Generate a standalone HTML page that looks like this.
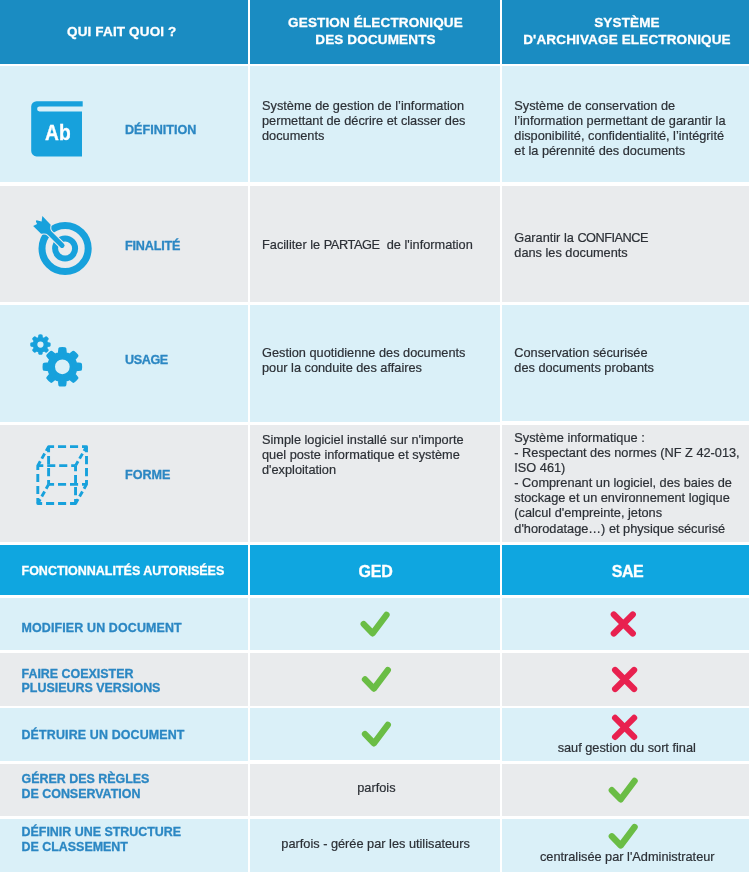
<!DOCTYPE html>
<html lang="fr">
<head>
<meta charset="utf-8">
<title>GED vs SAE</title>
<style>
html,body{margin:0;padding:0;background:#fff;}
body{width:749px;height:876px;position:relative;overflow:hidden;font-family:"Liberation Sans",sans-serif;color:#2b2b2b;}
.c{position:absolute;}
.h1{background:#1a8cc2;}
.h2{background:#0fa6e0;}
.lb{background:#daf0f8;}
.gr{background:#e9ebed;}
.t{position:absolute;white-space:nowrap;font-size:12.75px;line-height:15.1px;color:#2c3036;-webkit-text-stroke:0.2px #2c3036;}
.t span{display:inline-block;}
.hd{position:absolute;white-space:nowrap;font-weight:bold;color:#fff;-webkit-text-stroke:0.3px #fff;font-size:13.5px;line-height:17px;text-align:center;letter-spacing:0.15px;}
.lab{position:absolute;white-space:nowrap;font-weight:bold;color:#2b87c3;-webkit-text-stroke:0.3px #2b87c3;font-size:12.6px;line-height:15px;}
.lab2{position:absolute;white-space:nowrap;font-weight:bold;color:#2b87c3;-webkit-text-stroke:0.3px #2b87c3;font-size:12.45px;line-height:15px;}
.ctr{text-align:center;}
svg{position:absolute;left:0;top:0;overflow:visible;}
</style>
</head>
<body>
<!-- grid cells -->
<div class="c h1" style="left:0;top:0;width:248px;height:64px"></div>
<div class="c h1" style="left:250px;top:0;width:250px;height:64px"></div>
<div class="c h1" style="left:502px;top:0;width:247px;height:64px"></div>

<div class="c lb" style="left:0;top:66px;width:248px;height:116px"></div>
<div class="c lb" style="left:250px;top:66px;width:250px;height:116px"></div>
<div class="c lb" style="left:502px;top:66px;width:247px;height:116px"></div>

<div class="c gr" style="left:0;top:186px;width:248px;height:116px"></div>
<div class="c gr" style="left:250px;top:186px;width:250px;height:116px"></div>
<div class="c gr" style="left:502px;top:186px;width:247px;height:116px"></div>

<div class="c lb" style="left:0;top:305px;width:248px;height:116.5px"></div>
<div class="c lb" style="left:250px;top:305px;width:250px;height:116.5px"></div>
<div class="c lb" style="left:502px;top:305px;width:247px;height:116px"></div>

<div class="c gr" style="left:0;top:425px;width:248px;height:117px"></div>
<div class="c gr" style="left:250px;top:425px;width:250px;height:117px"></div>
<div class="c gr" style="left:502px;top:425px;width:247px;height:117px"></div>

<div class="c h2" style="left:0;top:545px;width:248px;height:50px"></div>
<div class="c h2" style="left:250px;top:545px;width:250px;height:50px"></div>
<div class="c h2" style="left:502px;top:545px;width:247px;height:50px"></div>

<div class="c lb" style="left:0;top:598px;width:248px;height:52px"></div>
<div class="c lb" style="left:250px;top:598px;width:250px;height:52px"></div>
<div class="c lb" style="left:502px;top:598px;width:247px;height:52px"></div>

<div class="c gr" style="left:0;top:653px;width:248px;height:53px"></div>
<div class="c gr" style="left:250px;top:653px;width:250px;height:53px"></div>
<div class="c gr" style="left:502px;top:653px;width:247px;height:53px"></div>

<div class="c lb" style="left:0;top:708px;width:248px;height:52.5px"></div>
<div class="c lb" style="left:250px;top:708px;width:250px;height:52px"></div>
<div class="c lb" style="left:502px;top:708px;width:247px;height:52.5px"></div>

<div class="c gr" style="left:0;top:764px;width:248px;height:52px"></div>
<div class="c gr" style="left:250px;top:764px;width:250px;height:52px"></div>
<div class="c gr" style="left:502px;top:764px;width:247px;height:52px"></div>

<div class="c lb" style="left:0;top:819px;width:248px;height:53px"></div>
<div class="c lb" style="left:250px;top:819px;width:250px;height:53px"></div>
<div class="c lb" style="left:502px;top:819px;width:247px;height:53px"></div>

<!-- header text -->
<div class="hd" id="h_a" style="left:0;width:243.5px;top:23px">QUI FAIT QUOI ?</div>
<div class="hd" id="h_b" style="left:250px;width:251px;top:14px">GESTION ÉLECTRONIQUE<br>DES DOCUMENTS</div>
<div class="hd" id="h_c" style="left:502px;width:250px;top:14px">SYSTÈME<br>D'ARCHIVAGE ELECTRONIQUE</div>

<!-- row labels -->
<div class="lab" id="l1" style="left:125px;top:123px">DÉFINITION</div>
<div class="lab" id="l2" style="left:125px;top:239px;letter-spacing:-0.17px">FINALITÉ</div>
<div class="lab" id="l3" style="left:125px;top:353px;letter-spacing:-0.4px">USAGE</div>
<div class="lab" id="l4" style="left:125px;top:468px">FORME</div>

<!-- body text -->
<div class="t" id="t1b" style="left:262px;top:98px">Système de gestion de l’information<br>permettant de décrire et classer des<br>documents</div>
<div class="t" id="t1c" style="left:514.3px;top:98px">Système de conservation de<br>l’information permettant de garantir la<br>disponibilité, confidentialité, l’intégrité<br>et la pérennité des documents</div>
<div class="t" id="t2b" style="left:262px;top:237px">Faciliter le <span style="letter-spacing:-0.4px">PARTAGE</span>&nbsp; de l'information</div>
<div class="t" id="t2c" style="left:514.3px;top:230px">Garantir la <span style="letter-spacing:-0.5px">CONFIANCE</span><br>dans les documents</div>
<div class="t" id="t3b" style="left:262px;top:345px">Gestion quotidienne des documents<br>pour la conduite des affaires</div>
<div class="t" id="t3c" style="left:514.3px;top:345px">Conservation sécurisée<br>des documents probants</div>
<div class="t" id="t4b" style="left:262px;top:432px">Simple logiciel installé sur n'importe<br>quel poste informatique et système<br>d'exploitation</div>
<div class="t" id="t4c" style="left:514.3px;top:430px">Système informatique :<br>- Respectant des normes (NF Z 42-013,<br>ISO 461)<br>- Comprenant un logiciel, des baies de<br>stockage et un environnement logique<br>(calcul d'empreinte, jetons<br>d'horodatage…) et physique sécurisé</div>

<!-- header 2 -->
<div class="hd" id="h2a" style="left:21.5px;top:563px;text-align:left;font-size:12.5px;letter-spacing:0">FONCTIONNALITÉS AUTORISÉES</div>
<div class="hd" id="h2b" style="left:250px;width:251px;top:562px;font-size:16px;line-height:19px;letter-spacing:-0.2px">GED</div>
<div class="hd" id="h2c" style="left:502px;width:251px;top:562px;font-size:16px;line-height:19px;letter-spacing:-0.4px">SAE</div>

<div class="lab2" id="f1" style="left:21.5px;top:621px;letter-spacing:0.14px">MODIFIER UN DOCUMENT</div>
<div class="lab2" id="f2" style="left:21.5px;top:667px">FAIRE COEXISTER</div>
<div class="lab2" id="f2b" style="left:21.5px;top:681px">PLUSIEURS VERSIONS</div>
<div class="lab2" id="f3" style="left:21.5px;top:728px;letter-spacing:0.14px">DÉTRUIRE UN DOCUMENT</div>
<div class="lab2" id="f4" style="left:21.5px;top:772px">GÉRER DES RÈGLES<br>DE CONSERVATION</div>
<div class="lab2" id="f5" style="left:21.5px;top:825px">DÉFINIR UNE STRUCTURE<br>DE CLASSEMENT</div>

<div class="t ctr" id="s1" style="left:502px;width:249.5px;top:740px">sauf gestion du sort final</div>
<div class="t ctr" id="s2" style="left:251px;width:250.8px;top:780px">parfois</div>
<div class="t ctr" id="s3" style="left:251px;width:249.2px;top:836px">parfois - gérée par les utilisateurs</div>
<div class="t ctr" id="s4" style="left:502px;width:250.5px;top:849px">centralisée par l'Administrateur</div>

<!-- ICONS -->
<svg width="749" height="876" viewBox="0 0 749 876">
<g id="book">
<path d="M36.6 101.2 H82.7 V106.6 H39.5 A2.4 2.4 0 0 0 39.5 111.4 H82 V156.4 H36.6 A5.4 5.4 0 0 1 31.2 151 V106.6 A5.4 5.4 0 0 1 36.6 101.2 Z" fill="#17a1dc"/>
<text x="45.1" y="139.7" font-family="Liberation Sans, sans-serif" font-weight="bold" font-size="22.8" fill="#fff" stroke="#fff" stroke-width="0.35" textLength="25.6" lengthAdjust="spacingAndGlyphs">Ab</text>
</g>
<g id="target">
<circle cx="65.1" cy="248.5" r="23.1" fill="none" stroke="#17a1dc" stroke-width="7"/>
<circle cx="65.1" cy="248.5" r="10" fill="none" stroke="#17a1dc" stroke-width="6"/>
<g transform="translate(65.1 248.5) rotate(45)"><path d="M-38.5 6.7 L-37.1 2.5 L-39.6 1.6 Q-40.8 0.6 -39.4 -0.3 L-35.7 -2.5 L-39 -6.8 L-27 -6.6 Q-24.5 -2.5 -22 -2.5 L-4.3 -2.5 A2.5 2.5 0 0 1 -4.3 2.5 L-22 2.5 Q-24.5 2.5 -27.4 6.6 Z" fill="#e9ebed" stroke="#e9ebed" stroke-width="2.2" stroke-linejoin="round"/>
<path d="M-38.5 6.7 L-37.1 2.5 L-39.6 1.6 Q-40.8 0.6 -39.4 -0.3 L-35.7 -2.5 L-39 -6.8 L-27 -6.6 Q-24.5 -2.5 -22 -2.5 L-4.3 -2.5 A2.5 2.5 0 0 1 -4.3 2.5 L-22 2.5 Q-24.5 2.5 -27.4 6.6 Z" fill="#17a1dc"/></g>
</g>
<g id="gears">
<path d="M59.31 353.44 L59.83 348.67 A18.30 18.30 0 0 1 64.87 348.67 L65.39 353.44 A13.70 13.70 0 0 1 69.65 355.21 L73.39 352.20 A18.30 18.30 0 0 1 76.95 355.76 L73.94 359.50 A13.70 13.70 0 0 1 75.71 363.76 L80.48 364.28 A18.30 18.30 0 0 1 80.48 369.32 L75.71 369.84 A13.70 13.70 0 0 1 73.94 374.10 L76.95 377.84 A18.30 18.30 0 0 1 73.39 381.40 L69.65 378.39 A13.70 13.70 0 0 1 65.39 380.16 L64.87 384.93 A18.30 18.30 0 0 1 59.83 384.93 L59.31 380.16 A13.70 13.70 0 0 1 55.05 378.39 L51.31 381.40 A18.30 18.30 0 0 1 47.75 377.84 L50.76 374.10 A13.70 13.70 0 0 1 48.99 369.84 L44.22 369.32 A18.30 18.30 0 0 1 44.22 364.28 L48.99 363.76 A13.70 13.70 0 0 1 50.76 359.50 L47.75 355.76 A18.30 18.30 0 0 1 51.31 352.20 L55.05 355.21 A13.70 13.70 0 0 1 59.31 353.44 Z M53.50 366.80 a8.85 8.85 0 1 0 17.70 0 a8.85 8.85 0 1 0 -17.70 0 Z" fill="#17a1dc" fill-rule="evenodd" stroke="#17a1dc" stroke-width="3.0" stroke-linejoin="round"/>
<path d="M38.98 337.91 L39.30 335.42 A9.20 9.20 0 0 1 41.60 335.42 L41.92 337.91 A6.80 6.80 0 0 1 44.10 338.81 L46.09 337.28 A9.20 9.20 0 0 1 47.72 338.91 L46.19 340.90 A6.80 6.80 0 0 1 47.09 343.08 L49.58 343.40 A9.20 9.20 0 0 1 49.58 345.70 L47.09 346.02 A6.80 6.80 0 0 1 46.19 348.20 L47.72 350.19 A9.20 9.20 0 0 1 46.09 351.82 L44.10 350.29 A6.80 6.80 0 0 1 41.92 351.19 L41.60 353.68 A9.20 9.20 0 0 1 39.30 353.68 L38.98 351.19 A6.80 6.80 0 0 1 36.80 350.29 L34.81 351.82 A9.20 9.20 0 0 1 33.18 350.19 L34.71 348.20 A6.80 6.80 0 0 1 33.81 346.02 L31.32 345.70 A9.20 9.20 0 0 1 31.32 343.40 L33.81 343.08 A6.80 6.80 0 0 1 34.71 340.90 L33.18 338.91 A9.20 9.20 0 0 1 34.81 337.28 L36.80 338.81 A6.80 6.80 0 0 1 38.98 337.91 Z M36.35 344.55 a4.10 4.10 0 1 0 8.20 0 a4.10 4.10 0 1 0 -8.20 0 Z" fill="#17a1dc" fill-rule="evenodd" stroke="#17a1dc" stroke-width="2.0" stroke-linejoin="round"/>
</g>
<g id="cube" fill="none" stroke="#17a1dc" stroke-width="2.9" stroke-linejoin="round">
<path d="M48.6 446.65 L86.5 446.65 L86.5 484.4 L75.55 503.5 L37.8 503.5 L37.8 465.65 Z" stroke-dasharray="10.35 3.90 8.10 3.90 8.10 3.90 10.00 3.90 8.10 3.90 8.10 3.90 9.35 3.10 5.80 3.10 10.52 3.90 8.10 3.90 8.10 3.90 9.85 3.90 8.10 3.90 8.10 3.90 9.45 3.10 5.80 3.10" stroke-dashoffset="4.85"/>
<path d="M37.8 465.65 L75.55 465.65" stroke-dasharray="5.50 3.90 8.10 3.90 8.10 3.90 4.35 100"/>
<path d="M75.55 465.65 L75.55 503.5" stroke-dasharray="5.50 3.90 8.10 3.90 8.10 3.90 4.45 100"/>
<path d="M75.55 465.65 L86.5 446.65" stroke-dasharray="5.00 3.10 5.80 3.10 4.93 100"/>
<path d="M48.6 446.65 L48.6 484.4" stroke-dasharray="5.50 3.90 8.10 3.90 8.10 3.90 4.35 100"/>
<path d="M48.6 484.4 L86.5 484.4" stroke-dasharray="5.50 3.90 8.10 3.90 8.10 3.90 4.50 100"/>
<path d="M48.6 484.4 L37.8 503.5" stroke-dasharray="5.00 3.10 5.80 3.10 4.94 100"/>
</g>
<path d="M363.7 624.1 L372.6 633.3 L386.5 614.8" fill="none" stroke="#6abd45" stroke-width="6.3" stroke-linecap="round" stroke-linejoin="round"/>
<path d="M365.0 679.4 L373.9 688.6 L387.8 670.1" fill="none" stroke="#6abd45" stroke-width="6.3" stroke-linecap="round" stroke-linejoin="round"/>
<path d="M365.0 734.1 L373.9 743.3 L387.8 724.8" fill="none" stroke="#6abd45" stroke-width="6.3" stroke-linecap="round" stroke-linejoin="round"/>
<path d="M611.8 790.2 L620.7 799.4 L634.6 780.9" fill="none" stroke="#6abd45" stroke-width="6.3" stroke-linecap="round" stroke-linejoin="round"/>
<path d="M611.8 836.3 L620.7 845.5 L634.6 827.0" fill="none" stroke="#6abd45" stroke-width="6.3" stroke-linecap="round" stroke-linejoin="round"/>
<path d="M613.8 614.5 L632.8 633.5 M632.8 614.5 L613.8 633.5" fill="none" stroke="#e8214f" stroke-width="6.2" stroke-linecap="round"/>
<path d="M615.1 670.0 L634.1 689.0 M634.1 670.0 L615.1 689.0" fill="none" stroke="#e8214f" stroke-width="6.2" stroke-linecap="round"/>
<path d="M615.1 717.9 L634.1 736.9 M634.1 717.9 L615.1 736.9" fill="none" stroke="#e8214f" stroke-width="6.2" stroke-linecap="round"/>
</svg>
</body>
</html>
